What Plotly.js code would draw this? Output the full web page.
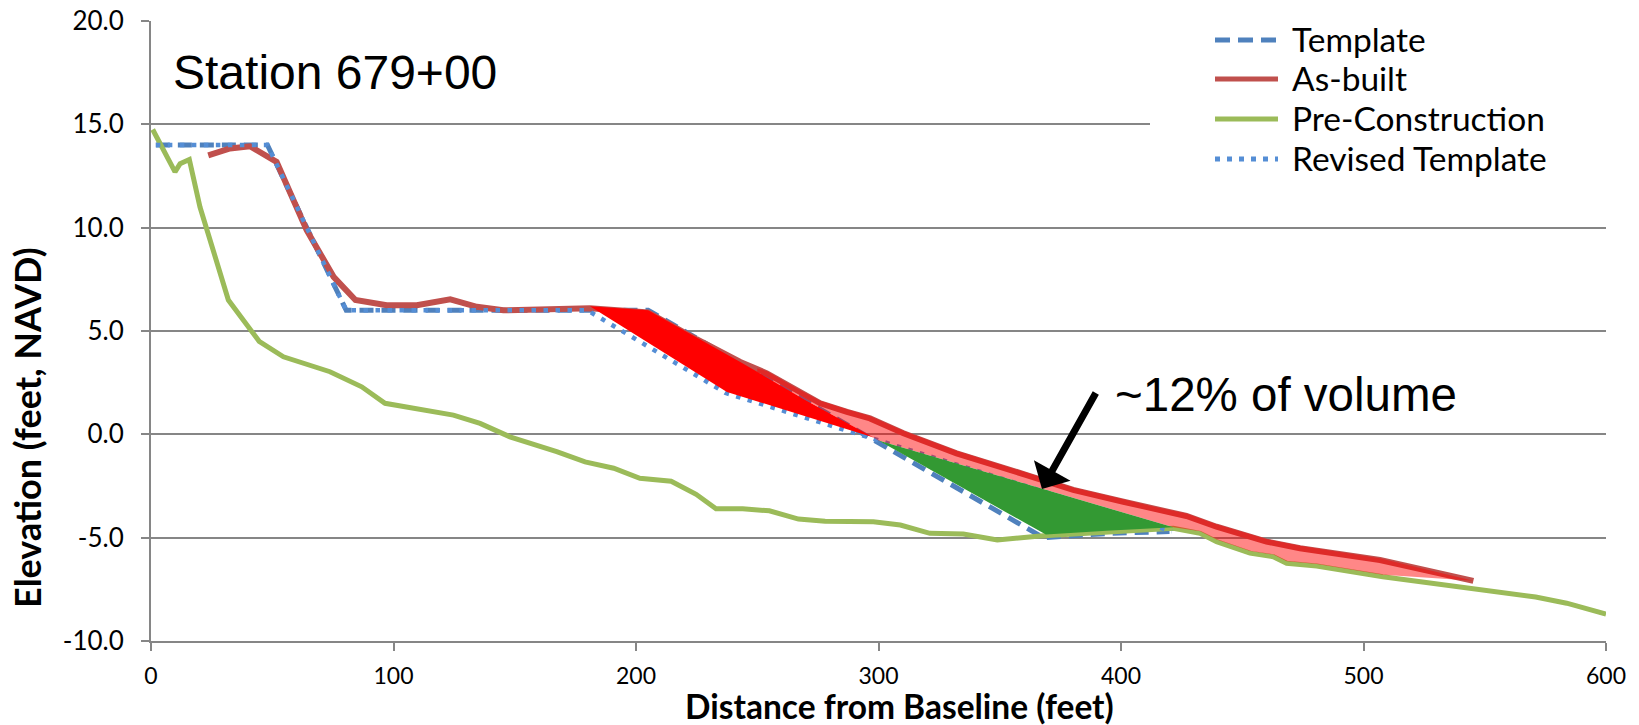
<!DOCTYPE html>
<html><head><meta charset="utf-8">
<script src="https://cdn.plot.ly/plotly-3.0.1.min.js"></script>
<style>html,body{margin:0;padding:0;background:#fff}#chart{width:1639px;height:725px}</style>
</head><body><div id="chart"></div>
<script>
// ---- data (feet) ----
const templateX = [2, 48, 80.5, 205, 368, 394, 420];
const templateY = [14, 14, 6, 6, -5, -4.8, -4.7];

const asBuiltX = [23.6, 32.6, 40.8, 51.8, 64.2, 75.3, 84.3, 97.2, 109.6, 123.4, 134.4, 145.3, 181, 205, 225, 243, 254, 266, 276, 287, 296.5, 310.3, 332.2, 361.1, 380.3, 401, 412, 427, 439.4, 460, 473.8, 506.8, 545.3];
const asBuiltY = [13.5, 13.83, 13.94, 13.18, 9.88, 7.62, 6.5, 6.25, 6.25, 6.53, 6.17, 6.0, 6.1, 5.9, 4.6, 3.5, 2.95, 2.14, 1.5, 1.09, 0.77, 0.05, -0.92, -1.97, -2.69, -3.26, -3.58, -3.95, -4.47, -5.19, -5.51, -6.08, -7.09];

const preX = [0.7, 9.9, 12, 15.8, 20.2, 31.9, 44.6, 54.6, 73.8, 86.9, 96.5, 109.6, 124.7, 135.7, 148, 167.3, 179, 190.8, 201.6, 214.5, 224.8, 233, 244, 255, 267, 278, 297.9, 309, 321.2, 335, 349, 366.6, 394, 421.6, 432.6, 439.4, 453.2, 462.8, 468.3, 480.7, 508, 545.3, 567.3, 571, 583.8, 600];
const preY = [14.75, 12.7, 13.1, 13.3, 11.0, 6.5, 4.5, 3.75, 3.03, 2.3, 1.5, 1.26, 0.93, 0.53, -0.12, -0.84, -1.33, -1.64, -2.13, -2.27, -2.9, -3.6, -3.6, -3.7, -4.1, -4.2, -4.23, -4.39, -4.79, -4.82, -5.11, -4.92, -4.76, -4.55, -4.79, -5.19, -5.75, -5.92, -6.24, -6.37, -6.89, -7.45, -7.82, -7.87, -8.17, -8.7];

const revisedX = [2, 48, 80.5, 180, 237, 421];
const revisedY = [14, 14, 6, 6, 2, -4.7];

// shaded areas (polygon outlines)
const redAreaX = [181, 205, 243, 270, 298, 237.5, 181];
const redAreaY = [6.2, 6.0, 3.5, 1.65, -0.15, 2.05, 6.2];

const greenAreaX = [300, 421.6, 394, 369, 300];
const greenAreaY = [-0.3, -4.5, -4.66, -4.85, -0.3];

const pinkAreaX = [250, 254, 266, 276, 287, 296.5, 310.3, 332.2, 361.1, 380.3, 401, 412, 427, 439.4, 460, 473.8, 506.8, 545.3, 508, 480.7, 468.3, 462.8, 453.2, 439.4, 432.6, 421.6, 300, 250];
const pinkAreaY = [3.2, 3.07, 2.26, 1.62, 1.21, 0.89, 0.17, -0.8, -1.85, -2.57, -3.14, -3.46, -3.83, -4.35, -5.07, -5.39, -6.0, -7.09, -6.79, -6.27, -6.14, -5.82, -5.65, -5.09, -4.69, -4.5, -0.3, 2.96];

const seriesNames = ['Template', 'As-built', 'Pre-Construction', 'Revised Template'];
const seriesColors = ['#4F81BD', '#C0504D', '#9BBB59', '#558ED5'];
const seriesWidths = [5, 6, 5, 4.5];
const seriesDash = ['14px,8px', 'solid', 'solid', '4.5px,7.5px'];

const xTicks = [0, 100, 200, 300, 400, 500, 600];
const yTicks = [-10, -5, 0, 5, 10, 15, 20];

// ---- layout geometry ----
const W = 1639, H = 725, ML = 151, MR = 33, MT = 21, MB = 84;
const pw = W - ML - MR, ph = H - MT - MB;
const px = v => (v - ML) / pw;
const py = v => (H - MB - v) / ph;

const seriesXY = [[templateX, templateY], [asBuiltX, asBuiltY], [preX, preY], [revisedX, revisedY]];
const traces = seriesXY.map((d, i) => ({
  type: 'scatter', mode: 'lines', x: d[0], y: d[1], name: seriesNames[i],
  line: {color: seriesColors[i], width: seriesWidths[i], dash: seriesDash[i]},
  showlegend: false
}));
traces.push({type: 'scatter', mode: 'lines', x: pinkAreaX, y: pinkAreaY, fill: 'toself',
  fillcolor: 'rgba(255,0,0,0.47)', line: {width: 0}, showlegend: false, hoverinfo: 'skip'});
traces.push({type: 'scatter', mode: 'lines', x: greenAreaX, y: greenAreaY, fill: 'toself',
  fillcolor: '#339933', line: {width: 0}, showlegend: false, hoverinfo: 'skip'});
traces.push({type: 'scatter', mode: 'lines', x: redAreaX, y: redAreaY, fill: 'toself',
  fillcolor: '#FF0000', line: {width: 0}, showlegend: false, hoverinfo: 'skip'});

const legendRowsPx = [40, 79, 119, 159];
const shapes = [{type: 'rect', xref: 'paper', yref: 'paper', x0: px(1150), x1: px(1639), y0: py(182), y1: py(0),
  fillcolor: '#ffffff', line: {width: 0}, layer: 'above'}];
const annotations = [];
seriesNames.forEach((n, i) => {
  shapes.push({type: 'line', xref: 'paper', yref: 'paper', x0: px(1215), x1: px(1278),
    y0: py(legendRowsPx[i]), y1: py(legendRowsPx[i]), layer: 'above',
    line: {color: seriesColors[i], width: 5, dash: seriesDash[i] === 'solid' ? 'solid' : (i === 0 ? '15px,8px' : '5px,7px')}});
  annotations.push({xref: 'paper', yref: 'paper', x: px(1290), y: py(legendRowsPx[i] - 1), xanchor: 'left', yanchor: 'middle',
    text: n, showarrow: false, font: {family: 'Lato', size: 33.5, color: '#000'}});
});
annotations.push({xref: 'paper', yref: 'paper', x: px(171), y: py(72), xanchor: 'left', yanchor: 'middle',
  text: 'Station 679+00', showarrow: false, font: {family: 'Liberation Sans, Arial', size: 48, color: '#000'}});
annotations.push({xref: 'paper', yref: 'paper', x: px(1113), y: py(394), xanchor: 'left', yanchor: 'middle',
  text: '~12% of volume', showarrow: false, font: {family: 'Liberation Sans, Arial', size: 47.5, color: '#000'}});
annotations.push({xref: 'x', yref: 'y', x: 367.4, y: -2.64, ax: 54.7, ay: -97.3, text: '', showarrow: true,
  arrowhead: 1, arrowsize: 1, arrowwidth: 7, arrowcolor: '#000', standoff: 0});
annotations.push({xref: 'paper', yref: 'paper', x: px(27), y: py(428), xanchor: 'center', yanchor: 'middle', textangle: -90,
  text: 'Elevation (feet, NAVD)', showarrow: false, font: {family: 'Lato', size: 36, weight: 'bold', color: '#000'}});
annotations.push({xref: 'paper', yref: 'paper', x: px(900), y: py(706), xanchor: 'center', yanchor: 'middle',
  text: 'Distance from Baseline (feet)', showarrow: false, font: {family: 'Lato', size: 33.5, weight: 'bold', color: '#000'}});

const layout = {
  width: W, height: H, margin: {l: ML, r: MR, t: MT, b: MB, pad: 0},
  paper_bgcolor: '#fff', plot_bgcolor: '#fff', showlegend: false,
  xaxis: {range: [0, 600], tickvals: xTicks, ticktext: xTicks.map(String), showgrid: false, zeroline: false,
    showline: true, linecolor: '#868686', linewidth: 2, ticks: 'outside', ticklen: 8, tickwidth: 2, tickcolor: '#868686',
    tickfont: {family: 'Lato', size: 23, color: '#000'}, ticklabelstandoff: 5},
  yaxis: {range: [-10, 20], tickvals: yTicks, ticktext: yTicks.map(v => v.toFixed(1)), showgrid: true, gridcolor: '#868686', gridwidth: 2,
    zeroline: false, showline: true, linecolor: '#868686', linewidth: 2, ticks: 'outside', ticklen: 8, tickwidth: 2, tickcolor: '#868686',
    tickfont: {family: 'Lato', size: 26, color: '#000'}, ticklabelstandoff: 12},
  shapes: shapes, annotations: annotations
};
Plotly.newPlot('chart', traces, layout, {displayModeBar: false, staticPlot: true});
</script></body></html>
